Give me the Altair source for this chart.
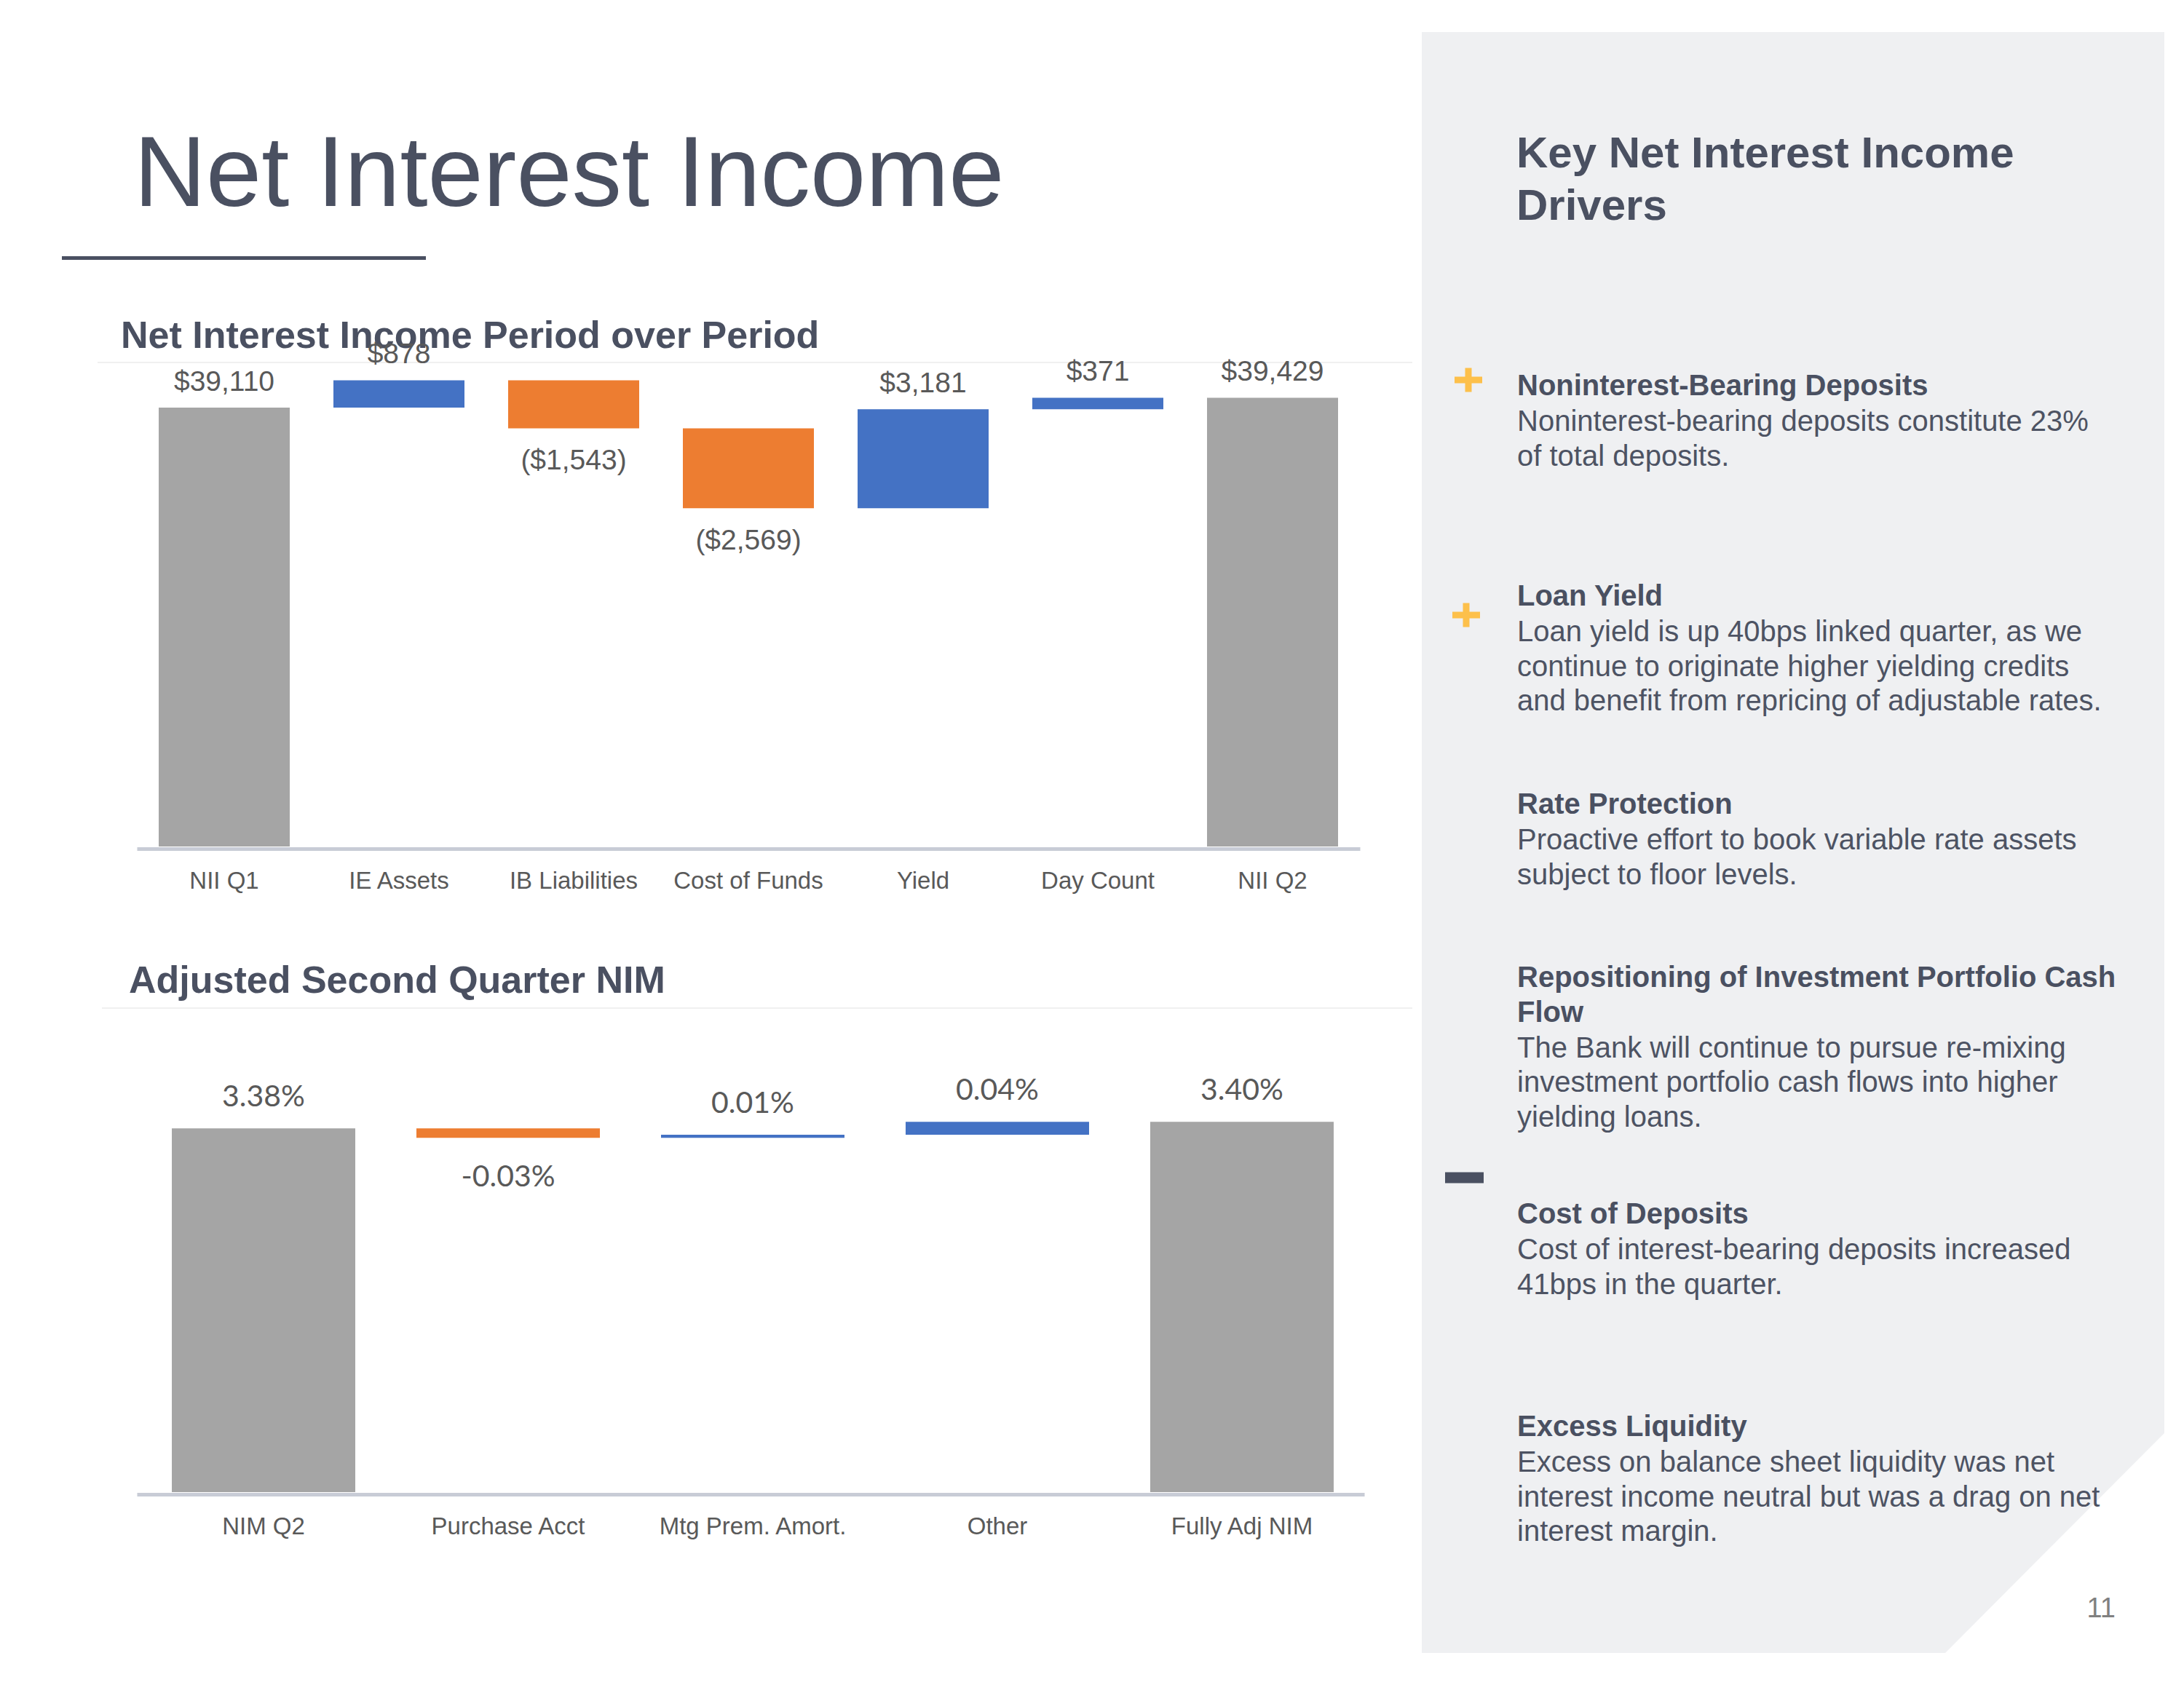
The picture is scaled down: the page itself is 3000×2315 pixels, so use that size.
import altair as alt
import pandas as pd

# ---------------- data ----------------
nii_categories = ["NII Q1", "IE Assets", "IB Liabilities", "Cost of Funds", "Yield", "Day Count", "NII Q2"]
nii_values = [39110, 878, -1543, -2569, 3181, 371, 39429]
nii_is_total = [True, False, False, False, False, False, True]

nim_categories = ["NIM Q2", "Purchase Acct", "Mtg Prem. Amort.", "Other", "Fully Adj NIM"]
nim_values = [3.38, -0.03, 0.01, 0.04, 3.40]
nim_is_total = [True, False, False, False, True]

page_title = "Net Interest Income"
nii_title = "Net Interest Income Period over Period"
nim_title = "Adjusted Second Quarter NIM"
panel_title = ["Key Net Interest Income", "Drivers"]
driver_headings = [
    ["Noninterest-Bearing Deposits"],
    ["Loan Yield"],
    ["Rate Protection"],
    ["Repositioning of Investment Portfolio Cash", "Flow"],
    ["Cost of Deposits"],
    ["Excess Liquidity"],
]
driver_bodies = [
    ["Noninterest-bearing deposits constitute 23%", "of total deposits."],
    ["Loan yield is up 40bps linked quarter, as we", "continue to originate higher yielding credits",
     "and benefit from repricing of adjustable rates."],
    ["Proactive effort to book variable rate assets", "subject to floor levels."],
    ["The Bank will continue to pursue re-mixing", "investment portfolio cash flows into higher",
     "yielding loans."],
    ["Cost of interest-bearing deposits increased", "41bps in the quarter."],
    ["Excess on balance sheet liquidity was net", "interest income neutral but was a drag on net",
     "interest margin."],
]
driver_signs = ["+", "+", "", "", "-", ""]
page_number = "11"

# ---------------- style ----------------
DARK = "#4A5061"
BODY = "#4D5363"
LABEL = "#595959"
GRAY_BAR = "#A5A5A5"
BLUE = "#4472C4"
ORANGE = "#ED7D31"
AXIS = "#C8CCD6"
PANEL = "#EFF0F2"
GOLD = "#FDC04B"
SANS = "Liberation Sans"

# origin (page px) of the first plot area
OX, OY = 188, 498


def px(x):
    return x - OX


def py(y):
    return y - OY


dummy = pd.DataFrame({"d": [0]})


def text_layer(s, x, y, size, bold=False, color=DARK, align="left", font=SANS):
    return alt.Chart(dummy).mark_text(
        text=s, align=align, baseline="alphabetic", fontSize=size,
        fontWeight="bold" if bold else "normal", color=color, font=font,
    ).encode(x=alt.value(px(x)), y=alt.value(py(y)))


def rect_layer(x1, x2, y1, y2, color):
    return alt.Chart(dummy).mark_rect(color=color).encode(
        x=alt.value(px(x1)), x2=alt.value(px(x2)), y=alt.value(py(y1)), y2=alt.value(py(y2))
    )


def hline(x1, x2, y, color, width):
    return alt.Chart(dummy).mark_rule(color=color, strokeWidth=width).encode(
        x=alt.value(px(x1)), x2=alt.value(px(x2)), y=alt.value(py(y))
    )


def waterfall_frame(cats, vals, totals, fmt):
    rows = []
    run = 0.0
    for c, v, t in zip(cats, vals, totals):
        if t:
            start, end, kind, d = 0.0, v, "total", "up"
            run = v
        else:
            start, end = run, run + v
            run = end
            kind = "increase" if v >= 0 else "decrease"
            d = "up" if v >= 0 else "down"
        rows.append(dict(cat=c, start=start, end=end, kind=kind, dir=d,
                         lab_y=max(start, end) if d == "up" else min(start, end),
                         label=fmt(v)))
    return pd.DataFrame(rows)


def fmt_dollar(v):
    return "${:,}".format(v) if v >= 0 else "(${:,})".format(abs(v))


def fmt_pct(v):
    return "{:.2f}%".format(v)


nii_df = waterfall_frame(nii_categories, nii_values, nii_is_total, fmt_dollar)
nim_df = waterfall_frame(nim_categories, nim_values, nim_is_total, fmt_pct)

color_scale = alt.Scale(domain=["total", "increase", "decrease"], range=[GRAY_BAR, BLUE, ORANGE])


def waterfall(df, cats, ydomain, xscale, lab_font, lab_size, up_dy, down_dy):
    axis = alt.Axis(title=None, labelFont=SANS, labelFontSize=33, labelColor=LABEL,
                    ticks=False, tickSize=0, labelPadding=28, domainColor=AXIS,
                    domainWidth=5, offset=3, labelAngle=0, grid=False,
                    labelLimit=600, labelOverlap=False, zindex=1)
    x = alt.X("cat:N", sort=cats, scale=xscale, axis=axis)
    yscale = alt.Scale(domain=ydomain, clamp=True, nice=False, zero=False)
    base = alt.Chart(df)
    bars = base.mark_bar().encode(
        x=x,
        y=alt.Y("start:Q", scale=yscale, axis=None),
        y2="end:Q",
        color=alt.Color("kind:N", scale=color_scale, legend=None),
    )
    up = base.transform_filter(alt.datum.dir == "up").mark_text(
        baseline="middle", dy=up_dy, font=lab_font, fontSize=lab_size, color=LABEL
    ).encode(x=x, y=alt.Y("lab_y:Q", scale=yscale, axis=None), text="label:N")
    down = base.transform_filter(alt.datum.dir == "down").mark_text(
        baseline="middle", dy=down_dy, font=lab_font, fontSize=lab_size, color=LABEL
    ).encode(x=x, y=alt.Y("lab_y:Q", scale=yscale, axis=None), text="label:N")
    return [bars, up, down]


# ---------------- decoration (page coordinates) ----------------
layers = []
# page background (fixes the canvas origin)
layers.append(rect_layer(8, 2992, 8, 2307, "white"))
# right grey panel with cut corner
panel_path = "M {a} {b} L {c} {b} L {c} {d} L {e} {f} L {a} {f} Z".format(
    a=px(1953), b=py(44), c=px(2973), d=py(1969), e=px(2672), f=py(2271))
layers.append(alt.Chart(dummy).mark_point(shape=panel_path, filled=True, opacity=1,
                                          strokeWidth=0, color=PANEL)
              .encode(x=alt.value(0), y=alt.value(0), size=alt.value(4)))

# left side titles
layers.append(text_layer(page_title, 184, 283, 137))
layers.append(rect_layer(85, 585, 352, 357, DARK))
layers.append(text_layer(nii_title, 166, 478, 52, bold=True))
layers.append(hline(134, 1940, 498, "#F0F0F0", 2))
layers.append(text_layer(nim_title, 177, 1364, 52, bold=True))
layers.append(hline(140, 1940, 1385, "#F0F0F0", 2))

# right panel text
layers.append(text_layer(panel_title[0], 2083, 230, 60, bold=True))
layers.append(text_layer(panel_title[1], 2083, 302, 60, bold=True))
head_y = [543, 832, 1118, 1356, 1681, 1973]
sign_y = [522, 845, None, None, 1618, None]
for i, (heads, body) in enumerate(zip(driver_headings, driver_bodies)):
    y = head_y[i]
    for j, h in enumerate(heads):
        layers.append(text_layer(h, 2084, y + j * 47.5, 40, bold=True))
    y0 = y + (len(heads) - 1) * 47.5 + 49
    for j, b in enumerate(body):
        layers.append(text_layer(b, 2084, y0 + j * 47.5, 40, color=BODY))
    s = driver_signs[i]
    if s == "+":
        cy = sign_y[i]
        cx = 2017 if i == 0 else 2014
        layers.append(rect_layer(cx - 19, cx + 19, cy - 4.5, cy + 4.5, GOLD))
        layers.append(rect_layer(cx - 4.5, cx + 4.5, cy - 16.5, cy + 16.5, GOLD))
    elif s == "-":
        cy = sign_y[i]
        layers.append(rect_layer(1985, 2038, cy - 7.5, cy + 7.5, DARK))

layers.append(text_layer(page_number, 2906, 2222, 38, color="#808080", align="right"))

# ---------------- charts ----------------
W1, H = 1680, 665
nii_layers = waterfall(nii_df, nii_categories, [25000, 40561],
                       alt.Scale(paddingInner=0.25, paddingOuter=0.125),
                       SANS, 39, -35, 45)
chart1 = alt.layer(*(layers + nii_layers)).properties(width=W1, height=H)

W2 = 1686
nim_layers = waterfall(nim_df, nim_categories, [2.245, 3.755],
                       alt.Scale(paddingInner=0.25, paddingOuter=0.134, align=0.5333),
                       "Lato", 41, -42, 55)
chart2 = alt.layer(*nim_layers).properties(width=W2, height=H)

chart = alt.vconcat(chart1, chart2, spacing=222, bounds="flush").properties(
    padding=0, background="white"
).configure_view(stroke="transparent", strokeWidth=0)

chart.save("out.html", embed_options={"renderer": "svg", "actions": False})
